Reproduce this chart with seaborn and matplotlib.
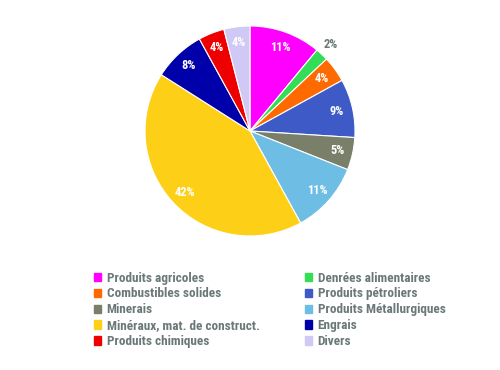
import matplotlib
matplotlib.use("Agg")
import matplotlib.pyplot as plt
from matplotlib import font_manager
import seaborn as sns
import numpy as np

categories = ["Produits agricoles", "Denrées alimentaires", "Combustibles solides",
              "Produits pétroliers", "Minerais", "Produits Métallurgiques",
              "Minéraux, mat. de construct.", "Engrais", "Produits chimiques", "Divers"]
shares = [11, 2, 4, 9, 5, 11, 42, 8, 4, 4]
colors = ["#ff00ff", "#33dd55", "#ff6a00", "#3d5ac6", "#7a7f6a",
          "#6dbde4", "#fdd017", "#0000aa", "#ee0000", "#d0c8f5"]

sns.set_theme(style="white")
names = {f.name for f in font_manager.fontManager.ttflist}
fam = "Roboto Condensed" if "Roboto Condensed" in names else "DejaVu Sans"
plt.rcParams["font.family"] = [fam, "DejaVu Sans"]

fig = plt.figure(figsize=(5, 3.7), dpi=100)
ax = fig.add_axes([0.29, 0.362, 0.42, 0.568])
wedges, _ = ax.pie(shares, colors=colors, startangle=90, counterclock=False,
                   wedgeprops=dict(edgecolor="white", linewidth=0.8))
ax.set_xlim(-1, 1)
ax.set_ylim(-1, 1)
ax.set_aspect("equal")

# étiquettes de pourcentage
total = sum(shares)
cum = 0
for v in shares:
    mid = 90 - (cum + v / 2) / total * 360
    cum += v
    r = 0.85 if v > 3 else 1.13
    col = "white" if v > 3 else "#6b7878"
    ax.text(r * np.cos(np.radians(mid)), r * np.sin(np.radians(mid)), f"{v}%",
            ha="center", va="center", color=col, fontsize=9, fontweight="bold")

# légende sur deux colonnes
handles = [plt.Rectangle((0, 0), 1, 1, color=c) for c in colors]
for col_idx, x0 in enumerate([0.187, 0.609]):
    idx = list(range(col_idx, 10, 2))
    leg = fig.legend([handles[i] for i in idx], [categories[i] for i in idx],
                     loc="upper left", bbox_to_anchor=(x0, 0.266),
                     frameon=False, fontsize=9.5, handlelength=0.6, handleheight=0.6,
                     handletextpad=0.4, labelspacing=0.22,
                     borderpad=0, borderaxespad=0)
    for t in leg.get_texts():
        t.set_color("#6b7878")
        t.set_fontweight("bold")

fig.savefig("out.png", dpi=100)
